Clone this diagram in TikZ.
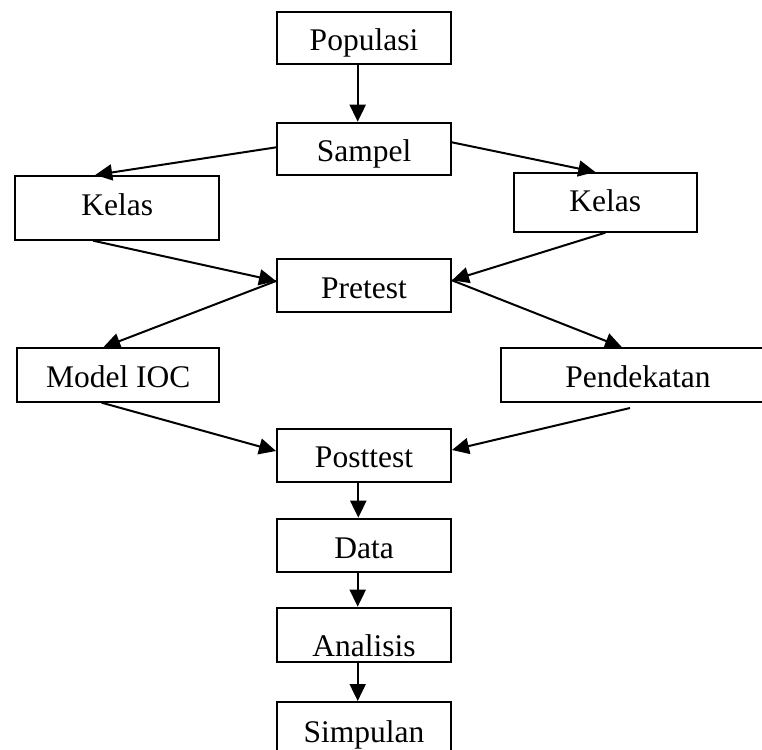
\documentclass[tikz,border=0pt]{standalone}
\usepackage{fontspec}
\setmainfont{Liberation Serif}
\usetikzlibrary{arrows.meta}
\begin{document}
\begin{tikzpicture}[x=1pt,y=-1pt,
  bx/.style={draw, line width=2pt, inner sep=0pt, anchor=north, align=center,
    font=\fontsize{31.5}{36}\selectfont, text height=39pt},
  arr/.style={line width=2pt, -{Triangle[length=17pt,width=16pt]}}]
\useasboundingbox (0,0) rectangle (762,749);
\clip (0,0) rectangle (762,749);
\node[bx, minimum width=174pt, text depth=13pt] (pop) at (364,11) {Populasi};
\node[bx, minimum width=174pt, text depth=13.6pt, text height=38.3pt] (sam) at (364,121.7) {Sampel};
\node[bx, minimum width=204pt, text depth=24.7pt] (kl) at (117.2,175) {Kelas};
\node[bx, minimum width=183pt, text depth=20pt, text height=38.7pt] (kr) at (605.3,172) {Kelas};
\node[bx, minimum width=174pt, text depth=14pt] (pre) at (364,258.3) {Pretest};
\node[bx, minimum width=202pt, text depth=14pt, text height=39.4pt] (moc) at (118.3,347.3) {Model IOC};
\node[bx, minimum width=274pt, text depth=14pt, text height=39.4pt] (pen) at (638,347.3) {Pendekatan};
\node[bx, minimum width=174pt, text depth=14pt] (post) at (364,427.7) {Posttest};
\node[bx, minimum width=174pt, text depth=13.4pt, text height=39.6pt] (data) at (364,517.7) {Data};
\node[bx, minimum width=174pt, text depth=5.7pt, text height=48.3pt] (ana) at (364,606.7) {Analisis};
\node[bx, minimum width=174pt, text depth=30pt, text height=40.7pt] (sim) at (364,701) {Simpulan};
\draw[arr] ([xshift=-6.3pt]pop.south) -- ([xshift=-6.3pt]sam.north);
\draw[arr] ([yshift=1.3pt]sam.west) -- ([xshift=-22pt]kl.north);
\draw[arr] ([yshift=6.3pt]sam.east) -- ([xshift=-10pt]kr.north);
\draw[arr] ([xshift=-24pt]kl.south) -- ([yshift=4.8pt]pre.west);
\draw[arr] (kr.south) -- ([yshift=5.5pt]pre.east);
\draw[arr] ([yshift=4.8pt]pre.west) -- ([xshift=-15pt]moc.north);
\draw[arr] ([yshift=5.5pt]pre.east) -- ([xshift=-16pt]pen.north);
\draw[arr] ([xshift=-16.6pt]moc.south) -- ([yshift=4.2pt]post.west);
\draw[arr] ([xshift=-8pt,yshift=-5.3pt]pen.south) -- ([yshift=5.2pt]post.east);
\draw[arr] ([xshift=-5.7pt]post.south) -- ([xshift=-5.7pt]data.north);
\draw[arr] ([xshift=-6.3pt]data.south) -- ([xshift=-6.3pt]ana.north);
\draw[arr] ([xshift=-6.3pt]ana.south) -- ([xshift=-6.3pt]sim.north);
\end{tikzpicture}
\end{document}
